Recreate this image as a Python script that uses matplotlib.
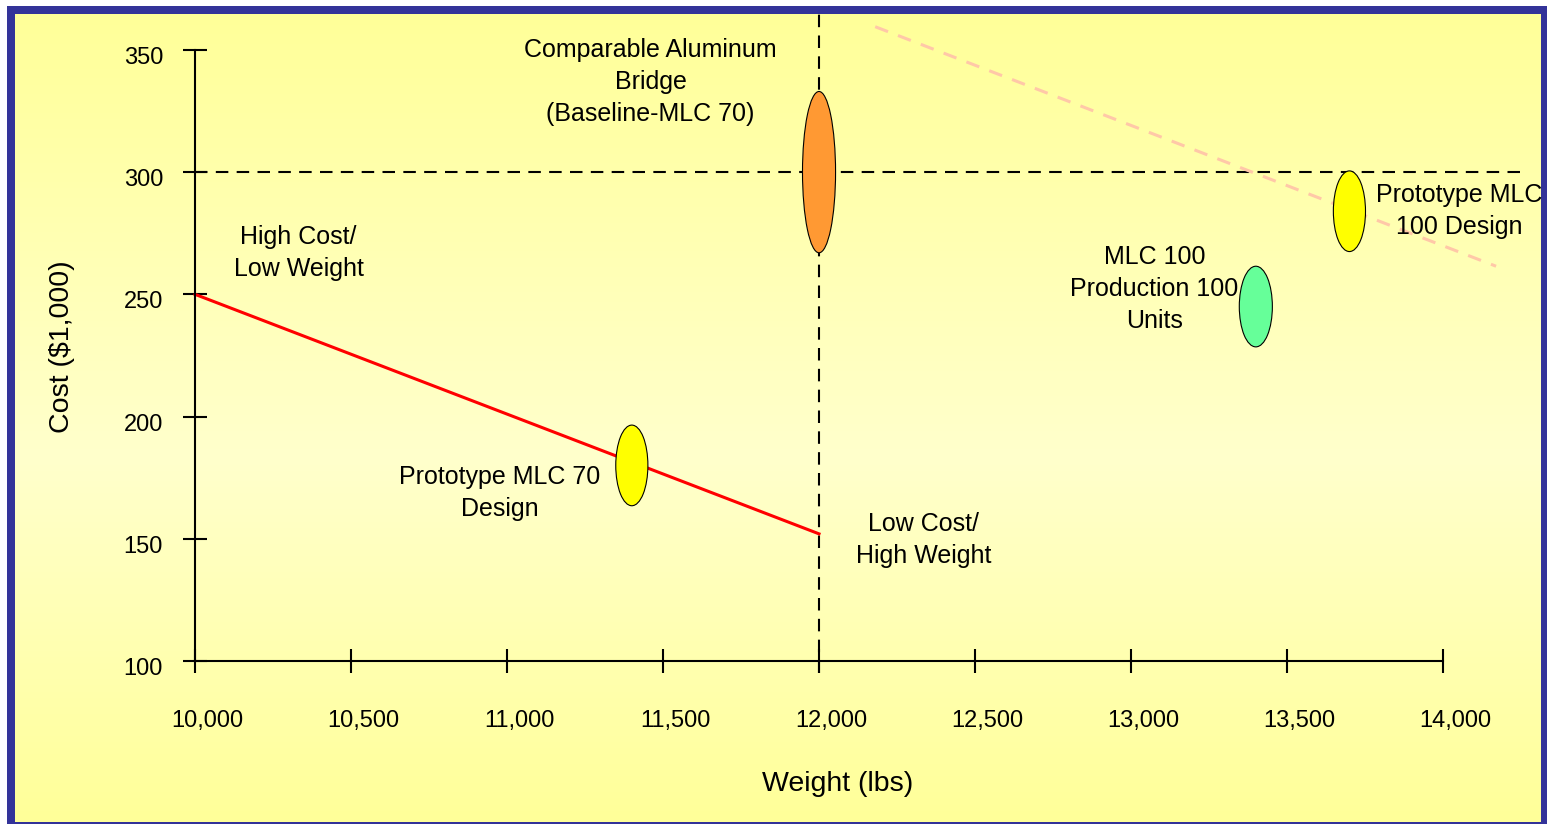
import numpy as np
import matplotlib
matplotlib.use("Agg")
import matplotlib.pyplot as plt
import matplotlib.transforms as mtransforms
from matplotlib.patches import Ellipse, Rectangle
from matplotlib.colors import LinearSegmentedColormap

plt.rcParams['font.family'] = ['Liberation Sans', 'DejaVu Sans']

# ---- data ----
x_ticks = [10000, 10500, 11000, 11500, 12000, 12500, 13000, 13500, 14000]
x_tick_labels = ['10,000', '10,500', '11,000', '11,500', '12,000',
                 '12,500', '13,000', '13,500', '14,000']
y_ticks = [100, 150, 200, 250, 300, 350]

# trade-off line for MLC 70 designs
tradeoff_weight = [10000, 12000]
tradeoff_cost = [250, 152]

# faint trend line through the MLC 100 region
trend_weight = [12180, 14170]
trend_cost = [359.5, 261.5]

# baseline (comparable aluminum bridge)
baseline_weight = 12000
baseline_cost = 300

# design points
point_names = ['Comparable Aluminum\nBridge\n(Baseline-MLC 70)',
               'Prototype MLC 70\nDesign',
               'MLC 100\nProduction 100\nUnits',
               'Prototype MLC\n100 Design']
point_weight = [12000, 11400, 13400, 13700]
point_cost = [300, 180, 245, 284]
point_colors = ['#FF9933', '#FFFF00', '#66FF99', '#FFFF00']
point_w = [106, 103, 106, 103]
point_h = [66, 33, 33, 33]
label_pos = [(11460, 336.7), (10976, 168.7), (13075, 252.2), (14051, 283.9)]

region_names = ['High Cost/\nLow Weight', 'Low Cost/\nHigh Weight']
region_pos = [(10332, 267.1), (12335, 149.5)]

# ---- figure & background ----
W, H = 1547, 824
fig = plt.figure(figsize=(W / 100, H / 100), dpi=100, facecolor='white')

bg = fig.add_axes([0, 0, 1, 1])
bg.axis('off')
bg.add_patch(Rectangle((7, 6), W, H, facecolor='#333399', edgecolor='none',
                       zorder=1))
cmap = LinearSegmentedColormap.from_list(
    'bgy', [(0.0, '#FFFF99'), (0.55, '#FFFFCC'), (1.0, '#FFFF99')])
grad = np.linspace(0, 1, 256).reshape(-1, 1)
bg.imshow(grad, cmap=cmap, extent=(15, 1541, 822, 14), aspect='auto',
          interpolation='bicubic', zorder=2)
bg.set_xlim(0, W)
bg.set_ylim(H, 0)

# ---- main axes ----
ax = fig.add_axes([15 / W, 2 / H, 1526 / W, 808 / H])
ax.patch.set_alpha(0)
ax.set_xlim(9423, 14314)
ax.set_ylim(34.1, 364.7)

for s in ['top', 'right']:
    ax.spines[s].set_visible(False)
ax.spines['left'].set_position(('data', 10000))
ax.spines['bottom'].set_position(('data', 100))
ax.spines['left'].set_bounds(100, 350)
ax.spines['bottom'].set_bounds(10000, 14000)
for s in ['left', 'bottom']:
    ax.spines[s].set_linewidth(1.5)

ax.set_xticks(x_ticks)
ax.set_xticklabels(x_tick_labels)
ax.set_yticks(y_ticks)
ax.tick_params(axis='both', direction='inout', length=17, width=1.5,
               labelsize=17, colors='black')
ax.tick_params(axis='x', pad=27)
ax.tick_params(axis='y', pad=14.5)

xoff = mtransforms.ScaledTranslation(0.12, 0, fig.dpi_scale_trans)
for lab in ax.get_xticklabels():
    lab.set_transform(lab.get_transform() + xoff)
yoff = mtransforms.ScaledTranslation(0, -0.055, fig.dpi_scale_trans)
for lab in ax.get_yticklabels():
    lab.set_transform(lab.get_transform() + yoff)

ax.set_xlabel('Weight (lbs)', fontsize=20.5)
ax.xaxis.set_label_coords((838 - 15) / 1526, (822 - 784) / 808)
ax.xaxis.label.set_va('center')
ax.set_ylabel('Cost ($1,000)', fontsize=20.5)
ax.yaxis.set_label_coords((62 - 15) / 1526, (822 - 347) / 808)
ax.yaxis.label.set_va('center')

# reference lines
ax.plot([10000, 14256], [baseline_cost, baseline_cost], color='black',
        lw=1.5, dashes=(6, 4), zorder=2, clip_on=False)
ax.plot([baseline_weight, baseline_weight], [95, 364.7], color='black',
        lw=1.5, dashes=(6, 4), zorder=2, clip_on=False)

ax.plot(tradeoff_weight, tradeoff_cost, color='#FF0000', lw=2.2, zorder=2)
ax.plot(trend_weight, trend_cost, color='#FFC8A8', lw=2.2, dashes=(4.5, 3.5),
        zorder=2)

for wx, cy, c, w, h in zip(point_weight, point_cost, point_colors, point_w, point_h):
    ax.add_patch(Ellipse((wx, cy), w, h, facecolor=c, edgecolor='black',
                         lw=0.8, zorder=3))

for name, (tx, ty) in zip(point_names, label_pos):
    ax.text(tx, ty, name, fontsize=18, ha='center', va='center',
            linespacing=1.42, zorder=4)
for name, (tx, ty) in zip(region_names, region_pos):
    ax.text(tx, ty, name, fontsize=18, ha='center', va='center',
            linespacing=1.42, zorder=4)

fig.savefig('out.png', dpi=100, facecolor='white')
